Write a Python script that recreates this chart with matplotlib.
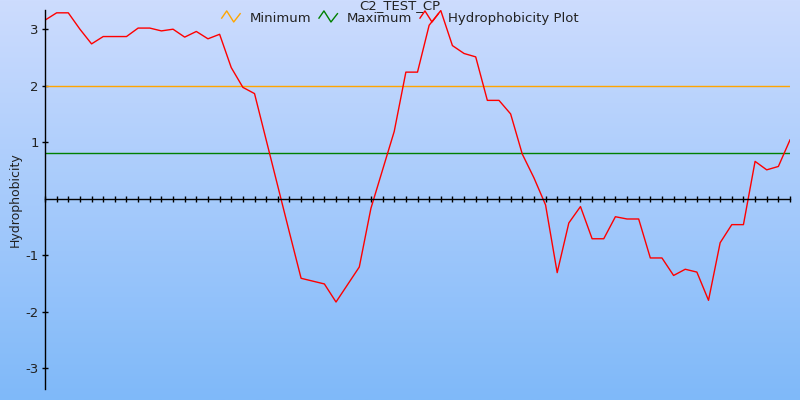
import numpy as np
import matplotlib.pyplot as plt
from matplotlib.lines import Line2D
from matplotlib.legend_handler import HandlerBase
from matplotlib.colors import LinearSegmentedColormap

# hydrophobicity per window position
hydro = [3.16, 3.29, 3.29, 3.00, 2.74, 2.87, 2.87, 2.87, 3.02, 3.02, 2.97, 3.00,
         2.86, 2.96, 2.83, 2.91, 2.32, 1.97, 1.86, 1.04, 0.22, -0.60, -1.41, -1.46, -1.51,
         -1.83, -1.52, -1.21, -0.17, 0.51, 1.19, 2.24, 2.24, 3.07, 3.33, 2.71, 2.57, 2.51,
         1.74, 1.74, 1.50, 0.79, 0.37, -0.11, -1.31, -0.43, -0.14, -0.71, -0.71, -0.32,
         -0.36, -0.36, -1.05, -1.05, -1.36, -1.25, -1.30, -1.80, -0.78, -0.46, -0.46, 0.66,
         0.51, 0.57, 1.04]
minimum = 2.0
maximum = 0.8
yticks = [-3, -2, -1, 1, 2, 3]
title = "C2_TEST_CP"

positions = np.arange(len(hydro))

plt.rcParams["axes.unicode_minus"] = False


class ZigZag(HandlerBase):
    '''
    legend icon drawn as a small zig-zag
    '''
    def create_artists(self, legend, orig_handle, xdescent, ydescent,
                       width, height, fontsize, trans):
        xs = np.array([0, 0.27, 0.65, 1.0]) * width - xdescent
        ys = np.array([0.35, 1.0, 0.0, 0.75]) * height * 1.2 - ydescent
        line = Line2D(xs, ys, color=orig_handle.get_color(), lw=1)
        line.set_transform(trans)
        return [line]


fig = plt.figure(figsize=(8, 4), dpi=100)

# gradient background over the whole figure
bg = fig.add_axes([0, 0, 1, 1], zorder=-1)
cmap = LinearSegmentedColormap.from_list("bg", ["#cddcfe", "#7fb9f9"])
bg.imshow(np.linspace(0, 1, 256).reshape(-1, 1), aspect="auto", cmap=cmap,
          extent=[0, 1, 0, 1])
bg.axis("off")

ax = fig.add_axes([45 / 800, 11 / 400, 745 / 800, 379 / 400])
ax.patch.set_alpha(0)

l_min, = ax.plot(positions, [minimum] * len(hydro), color="#ffa500", lw=1, label="Minimum")
l_max, = ax.plot(positions, [maximum] * len(hydro), color="#008000", lw=1, label="Maximum")
l_hyd, = ax.plot(positions, hydro, color="#ff0000", lw=1, label="Hydrophobicity Plot")

ax.set_xlim(0, len(hydro) - 1)
ax.set_ylim(-3.37, 3.34)
ax.set_xticks(positions)
ax.set_yticks(yticks)
ax.tick_params(axis="x", direction="inout", length=5, width=1, labelbottom=False)
ax.tick_params(axis="y", direction="inout", length=5, width=1, pad=2,
               labelsize=9.5, labelcolor="#222222")

ax.spines["bottom"].set_position(("data", 0))
ax.spines["top"].set_visible(False)
ax.spines["right"].set_visible(False)
ax.spines["left"].set_linewidth(1)
ax.spines["bottom"].set_linewidth(1)

ax.set_ylabel("Hydrophobicity", fontsize=9, color="#222222")
ax.yaxis.set_label_coords(-0.031, 0.5)

fig.text(0.5, 1 - 9.5 / 400, title, ha="center", va="baseline", fontsize=9.5, color="#222222")

fig.legend(handles=[l_min, l_max, l_hyd], handler_map={Line2D: ZigZag()},
           loc="center", bbox_to_anchor=(0.5, 1 - 18.5 / 400), ncol=3, frameon=False,
           fontsize=9.5, handlelength=1.4, handletextpad=0.7, columnspacing=0.6,
           borderpad=0, labelcolor="#222222")

fig.savefig("out.png", dpi=100)
